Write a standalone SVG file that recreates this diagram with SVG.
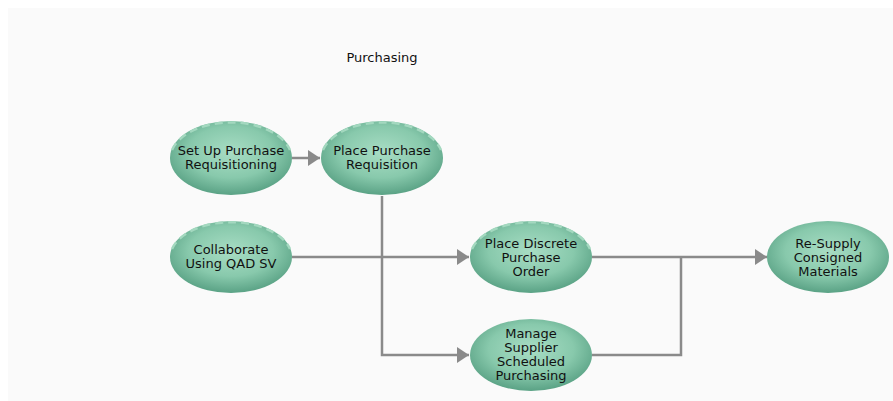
<svg xmlns="http://www.w3.org/2000/svg" width="893" height="401" viewBox="0 0 893 401">
<defs>
<radialGradient id="g" cx="50%" cy="42%" r="58%">
<stop offset="0" stop-color="#a8ddc4"/>
<stop offset="0.6" stop-color="#88c9ac"/>
<stop offset="1" stop-color="#5aa285"/>
</radialGradient>
<marker id="ah" markerWidth="12" markerHeight="16" refX="12" refY="8" orient="auto" markerUnits="userSpaceOnUse">
<path d="M0,0 L12,8 L0,16 Z" fill="#8a8a8a"/>
</marker>
<style>
.n{fill:url(#g);}
.d{fill:none;stroke:#a3d8bf;stroke-width:2.5;stroke-dasharray:8 5;}
.c{fill:none;stroke:#8a8a8a;stroke-width:2.5;}
.t{font-family:"DejaVu Sans",Verdana,sans-serif;font-size:13px;fill:#111111;text-anchor:middle;}
</style>
</defs>
<rect x="0" y="0" width="893" height="401" fill="#ffffff"/>
<rect x="8" y="8" width="885" height="393" fill="#fafafa"/>
<text class="t" x="382" y="62">Purchasing</text>
<g id="connectors">
<path class="c" d="M292,158 H320" marker-end="url(#ah)"/>
<path class="c" d="M382,196 V355 H469" marker-end="url(#ah)"/>
<path class="c" d="M292,257 H469" marker-end="url(#ah)"/>
<path class="c" d="M592,257 H767" marker-end="url(#ah)"/>
<path class="c" d="M592,355 H681 V257"/>
</g>
<g id="n1">
<ellipse class="n" cx="231" cy="158" rx="61" ry="37"/>
<path class="d" d="M172,150 A61,37 0 0 1 290,150"/>
<text class="t" x="231" y="155">Set Up Purchase</text>
<text class="t" x="231" y="169">Requisitioning</text>
</g>
<g id="n2">
<ellipse class="n" cx="382" cy="158" rx="61" ry="37"/>
<path class="d" d="M323,150 A61,37 0 0 1 441,150"/>
<text class="t" x="382" y="155">Place Purchase</text>
<text class="t" x="382" y="169">Requisition</text>
</g>
<g id="n3">
<ellipse class="n" cx="231" cy="257" rx="61" ry="36"/>
<path class="d" d="M172,249 A61,36 0 0 1 290,249"/>
<text class="t" x="231" y="254">Collaborate</text>
<text class="t" x="231" y="268">Using QAD SV</text>
</g>
<g id="n4">
<ellipse class="n" cx="531" cy="257" rx="61" ry="36"/>
<path class="d" d="M472,249 A61,36 0 0 1 590,249"/>
<text class="t" x="531" y="248">Place Discrete</text>
<text class="t" x="531" y="262">Purchase</text>
<text class="t" x="531" y="276">Order</text>
</g>
<g id="n5">
<ellipse class="n" cx="531" cy="355" rx="61" ry="36"/>
<text class="t" x="531" y="338">Manage</text>
<text class="t" x="531" y="352">Supplier</text>
<text class="t" x="531" y="366">Scheduled</text>
<text class="t" x="531" y="380">Purchasing</text>
</g>
<g id="n6">
<ellipse class="n" cx="828" cy="257" rx="61" ry="36"/>
<text class="t" x="828" y="248">Re-Supply</text>
<text class="t" x="828" y="262">Consigned</text>
<text class="t" x="828" y="276">Materials</text>
</g>
</svg>
